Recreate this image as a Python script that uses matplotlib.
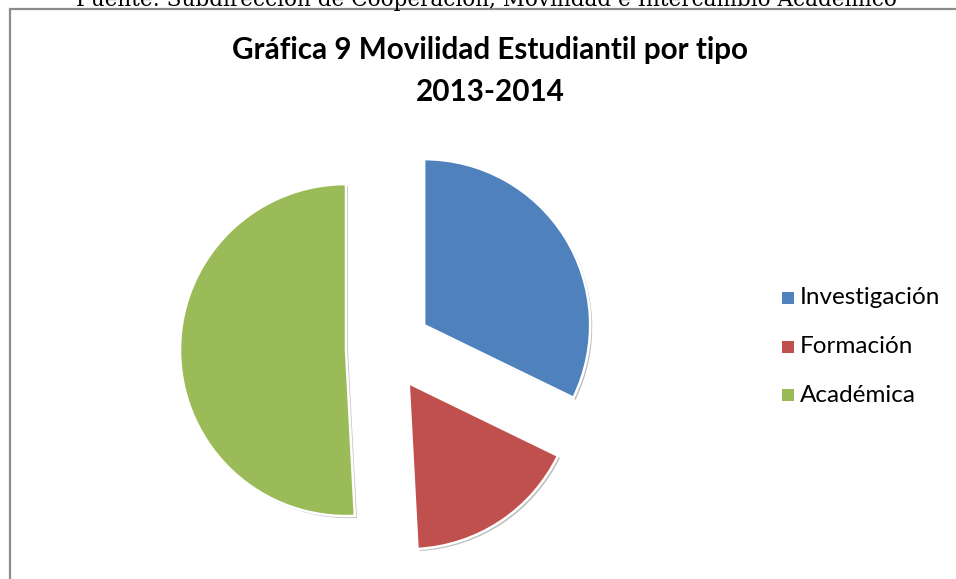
import matplotlib
matplotlib.use('Agg')
from matplotlib import pyplot as plt
from matplotlib import patches
from matplotlib import patheffects

# Movilidad estudiantil por tipo, 2013-2014
labels = ['Investigación', 'Formación', 'Académica']
values = [19, 10, 30]
colors = ['#4F81BD', '#C0504D', '#9BBB59']
explode = [45, 41, 40]  # matplotlib uses data units here, axes are in pixels

title = 'Gráfica 9 Movilidad Estudiantil por tipo\n2013-2014'
source = 'Fuente: Subdirección de Cooperación, Movilidad e Intercambio Académico'

W, H = 956, 579


def main():
    fig = plt.figure(figsize=(W / 100, H / 100), dpi=100)
    ax = fig.add_axes([0, 0, 1, 1])
    ax.set_xlim(0, W)
    ax.set_ylim(0, H)
    ax.axis('off')

    # chart frame, cut by the page on the right and bottom
    ax.add_patch(patches.Rectangle((10, -20), W + 20, H - 9 + 20,
                                   fill=False, edgecolor='#8c8c8c', lw=1.6))

    # source line, only its lower half shows above the frame
    ax.text(W / 2 + 8, H + 1, source, ha='center', va='center',
            family='DejaVu Serif', fontsize=15.5, color='black')

    ax.text(490, H - 71, title, ha='center', va='center',
            family='Lato', fontweight='bold', fontsize=21.3,
            linespacing=1.6)

    wedges, _ = ax.pie(values, colors=colors, explode=explode,
                       startangle=90, counterclock=False,
                       center=(386, H - 349), radius=166,
                       wedgeprops=dict(edgecolor='white', linewidth=1.8))
    for w in wedges:
        w.set_path_effects([
            patheffects.SimplePatchShadow(offset=(1.5, -1.5),
                                          shadow_rgbFace='#000000',
                                          alpha=0.25),
            patheffects.Normal()])
    ax.set_xlim(0, W)
    ax.set_ylim(0, H)
    ax.set_aspect('auto')

    for i, (lab, col) in enumerate(zip(labels, colors)):
        y = H - 298 - 48.5 * i
        ax.add_patch(patches.Rectangle((782, y - 6), 12, 12,
                                       facecolor=col, edgecolor='none'))
        ax.text(800, y, lab, ha='left', va='center', family='Lato',
                fontsize=17.5)

    plt.savefig('out.png', dpi=100)


if __name__ == '__main__':
    main()
